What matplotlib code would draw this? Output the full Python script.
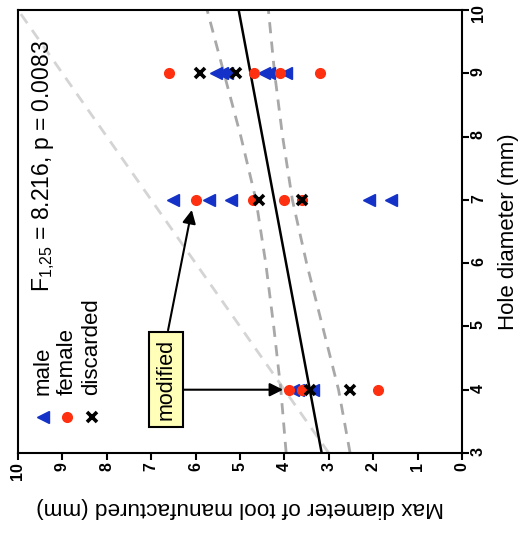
import matplotlib
matplotlib.use("Agg")
import matplotlib.pyplot as plt
import numpy as np

plt.rcParams['font.family'] = ['Liberation Sans', 'DejaVu Sans']
plt.rcParams['mathtext.fontset'] = 'custom'
plt.rcParams['mathtext.rm'] = 'Liberation Sans'
plt.rcParams['mathtext.it'] = 'Liberation Sans:italic'

# data (hole diameter, max tool diameter), both in mm
male_hole = [9, 9, 9, 9, 9, 9, 7, 7, 7, 7, 7, 4, 4, 4]
male_max = [5.55, 5.40, 5.30, 4.47, 4.34, 3.96, 6.50, 5.69, 5.20, 2.10, 1.60, 3.80, 3.69, 3.35]
female_hole = [9, 9, 9, 9, 7, 7, 7, 7, 4, 4, 4]
female_max = [6.59, 4.68, 4.10, 3.19, 5.99, 4.71, 4.00, 3.61, 3.89, 3.61, 1.90]
disc_hole = [9, 9, 7, 7, 4, 4]
disc_max = [5.90, 5.09, 4.58, 3.61, 3.42, 2.52]

# regression line and its confidence band
fit_hole = [3, 10]
fit_max = [3.16, 5.03]
band_hole = [3, 4, 5, 6, 7, 8, 9, 10]
band_upper = [3.96, 4.08, 4.24, 4.42, 4.64, 4.98, 5.36, 5.74]
band_lower = [2.52, 2.78, 3.14, 3.50, 3.82, 4.04, 4.22, 4.36]
identity = [3, 10]

stats_text = r'F$_{\mathrm{1{,}25}}$ = 8.216, p = 0.0083'

blue = '#1432c8'
red = '#ff3010'

fig = plt.figure(figsize=(5.2, 5.34), dpi=100)
ax = fig.add_axes([0.0346, 0.1517, 0.8538, 0.8296])

# chart is shown turned on its side: max diameter runs right-to-left, hole diameter up
ax.plot(identity, identity, color='#d4d4d4', lw=2, ls=(0, (4, 3)), zorder=1)
ax.plot(band_upper, band_hole, color='#a8a8a8', lw=2, ls=(0, (4, 3)), zorder=2)
ax.plot(band_lower, band_hole, color='#a8a8a8', lw=2, ls=(0, (4, 3)), zorder=2)
ax.plot(fit_max, fit_hole, color='black', lw=1.8, zorder=3)

ax.plot(male_max, male_hole, ls='none', marker='<', ms=8, color=blue, zorder=4)
ax.plot(female_max, female_hole, ls='none', marker='o', ms=7, color=red, zorder=5)
ax.plot(disc_max, disc_hole, ls='none', marker='x', ms=7, mew=2.6, color='black', zorder=6)

ax.set_xlim(10, 0)
ax.set_ylim(3, 10)
ax.set_xticks(range(0, 11))
ax.set_yticks(range(3, 11))
ax.yaxis.tick_right()
ax.tick_params(direction='out', length=5, width=1.5, labelsize=11.5, pad=1.5)
for lab in ax.get_xticklabels() + ax.get_yticklabels():
    lab.set_rotation(90)
    lab.set_fontweight('bold')
for sp in ax.spines.values():
    sp.set_linewidth(1.5)

ax.set_xlabel('Max diameter of tool manufactured (mm)', rotation=180, fontsize=16.2, labelpad=12)
ax.yaxis.set_label_position('right')
ax.set_ylabel('Hole diameter (mm)', rotation=90, fontsize=16, labelpad=9)

ax.text(0.058, 0.363, stats_text, transform=ax.transAxes, rotation=90,
        ha='center', va='bottom', fontsize=16.5)

# hand-made legend, turned like the rest
legend_items = [('male', '<', blue), ('female', 'o', red), ('discarded', 'x', 'black')]
for i, (name, mk, col) in enumerate(legend_items):
    xf = 0.056 + i * 0.055
    ax.plot([xf], [0.081], transform=ax.transAxes, marker=mk, color=col, ls='none',
            ms=8 if mk == '<' else 7, mew=2.6 if mk == 'x' else 1, clip_on=False)
    ax.text(xf, 0.131, name, transform=ax.transAxes, rotation=90,
            ha='center', va='bottom', fontsize=16)

ax.text(6.676, 4.161, 'modified', rotation=90, ha='center', va='center', fontsize=15.5,
        bbox=dict(boxstyle='square,pad=0.3', fc='#ffffb8', ec='black', lw=1.5), zorder=7)
arrow = dict(arrowstyle='-|>', mutation_scale=20, lw=1.5, color='black', shrinkA=0, shrinkB=0)
ax.annotate('', xy=(6.085, 6.84), xytext=(6.62, 4.94), arrowprops=arrow, zorder=7)
ax.annotate('', xy=(4.03, 4.0), xytext=(6.28, 4.0), arrowprops=arrow, zorder=7)

fig.savefig('out.png', dpi=100)
